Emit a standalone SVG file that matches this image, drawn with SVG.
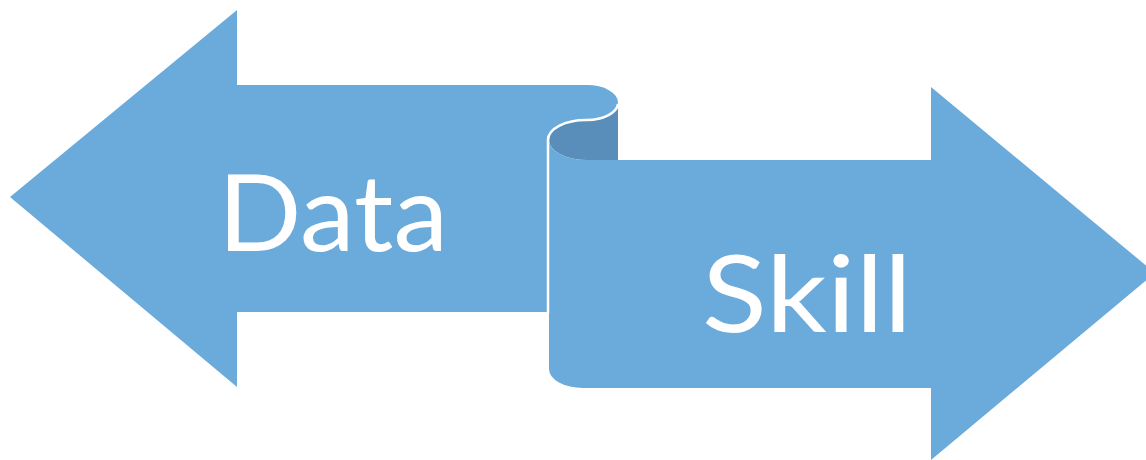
<svg xmlns="http://www.w3.org/2000/svg" width="1146" height="460" viewBox="0 0 1146 460">
<style>
.light{fill:#6BABDC;}
.dark{fill:#5A8EBA;}
.edge{fill:none;stroke:#FFFFFF;stroke-width:2.5;}
.lbl{font-family:Lato,"Open Sans","Liberation Sans",sans-serif;font-size:106px;fill:#FFFFFF;text-anchor:middle;}
</style>
<rect width="1146" height="460" fill="#FFFFFF"/>
<g id="data-arrow">
<path class="light" d="M10,197 L237,10 L237,85 L587,85 A31,17.5 0 0 1 587,120 A38,20 0 0 0 549,140 L549,312 L237,312 L237,387 Z"/>
<text class="lbl" x="333" y="251" textLength="230" lengthAdjust="spacingAndGlyphs">Data</text>
</g>
<g id="scroll-back">
<path class="dark" d="M618,102 L618,160 L587,160 A38,20 0 0 1 549,140 A38,20 0 0 1 587,120 A31,17.5 0 0 0 618,102 Z"/>
</g>
<g id="skill-arrow">
<path class="light" d="M549,140 A38,20 0 0 0 587,160 L931,160 L931,87 L1155,273 L931,460 L931,388 L583,388 A34,19 0 0 1 549,369 Z"/>
<text class="lbl" x="807" y="332" textLength="210" lengthAdjust="spacingAndGlyphs">Skill</text>
</g>
<g id="connectors">
<path class="edge" d="M618,104 A31,17.5 0 0 1 587,120 A38,20 0 0 0 548,140 L548,313"/>
</g>
</svg>
